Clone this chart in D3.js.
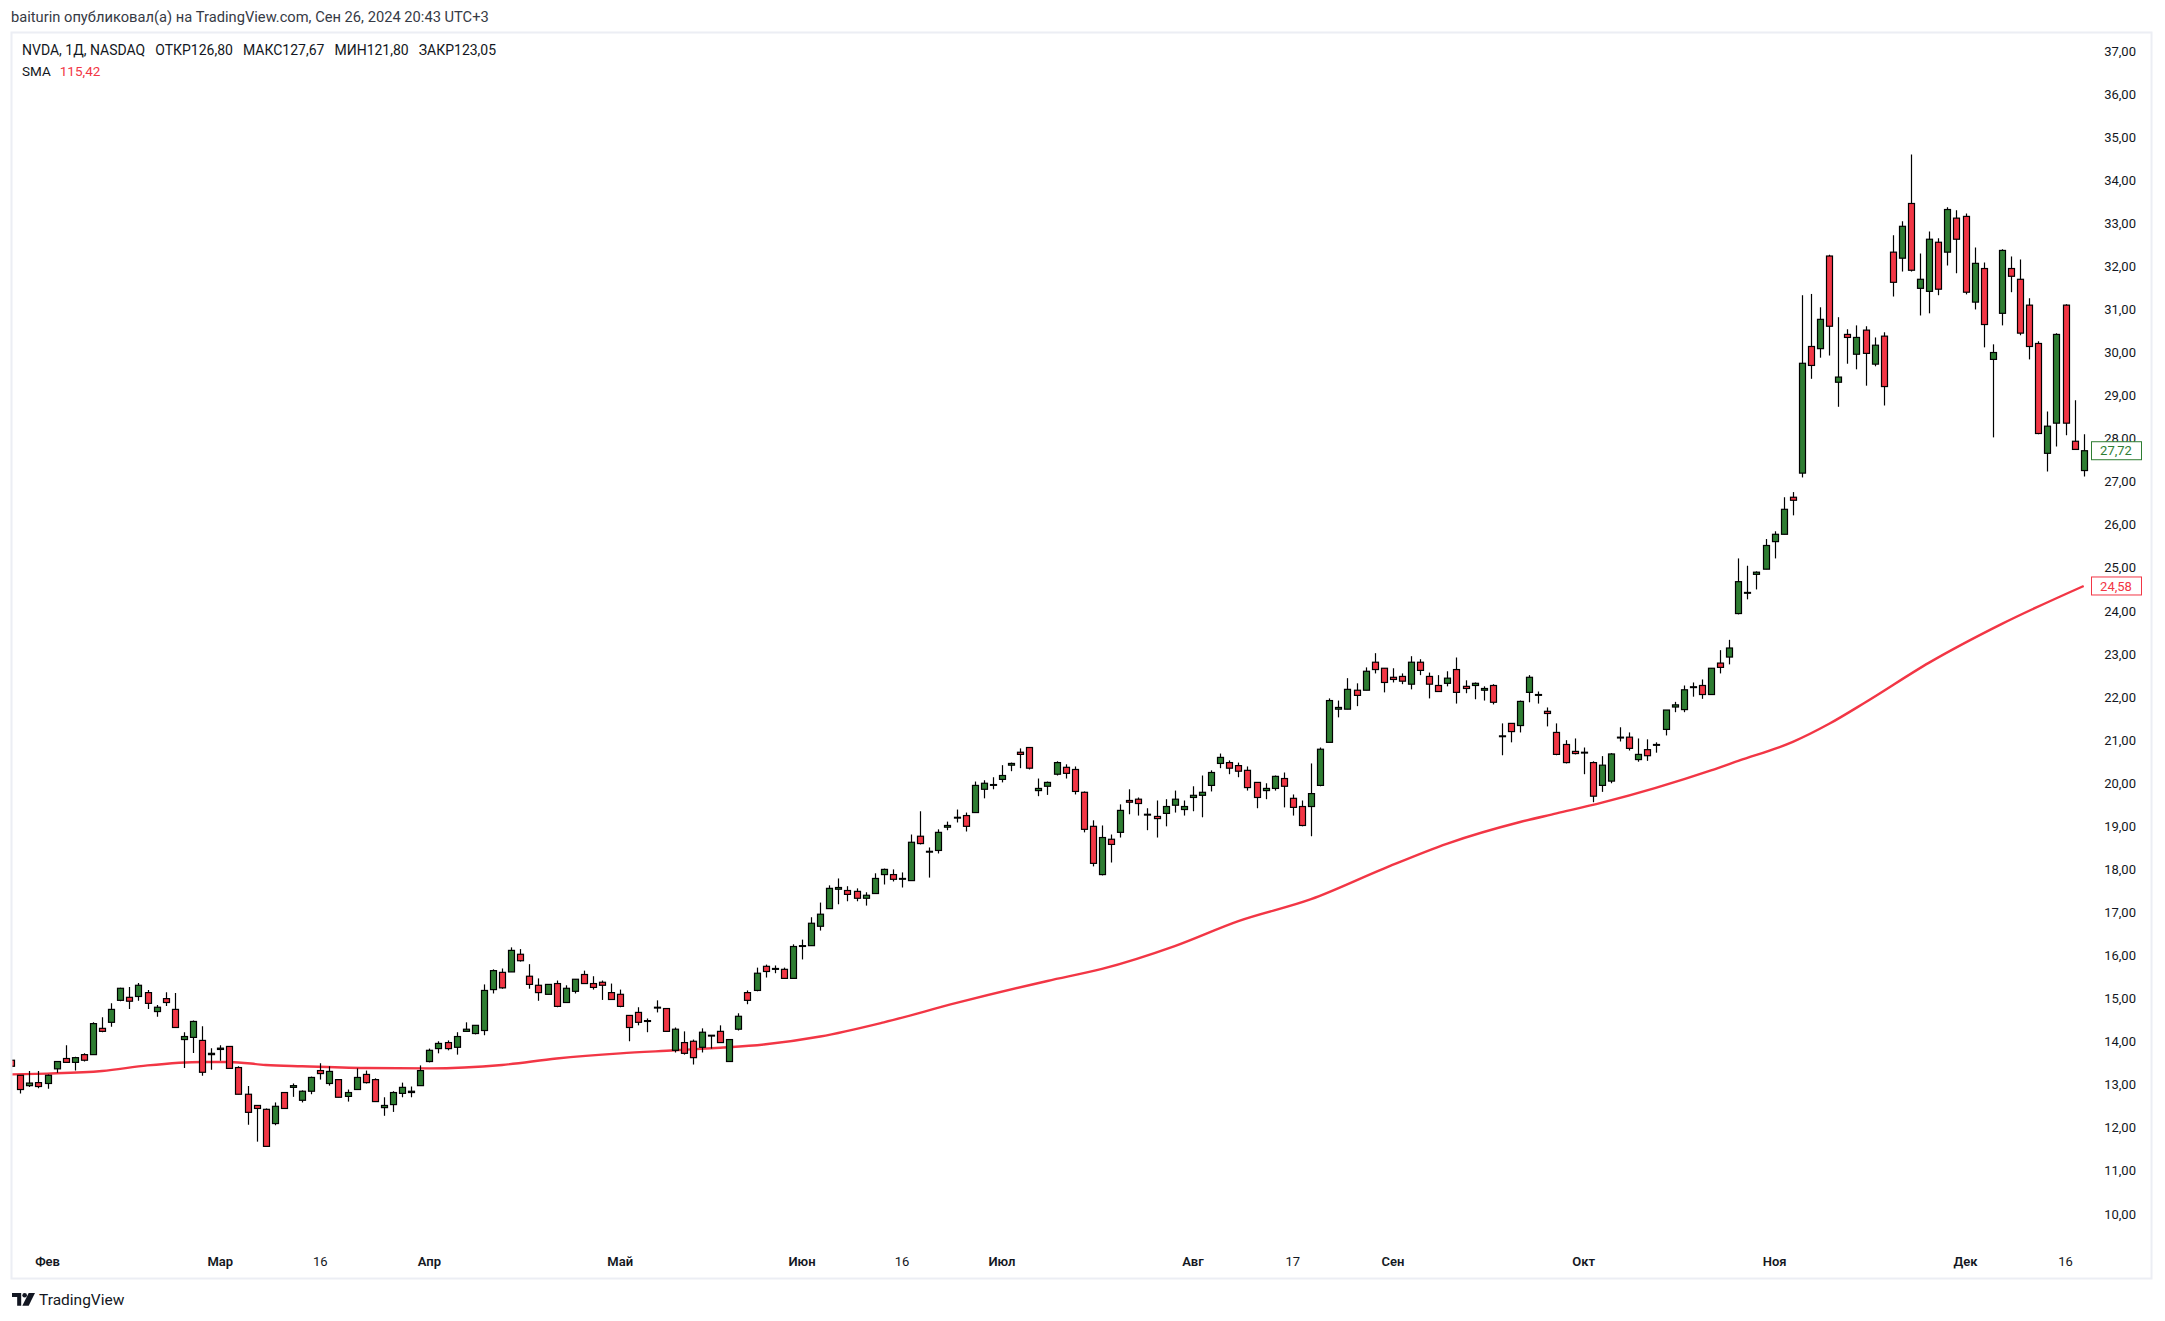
<!DOCTYPE html>
<html>
<head>
<meta charset="utf-8">
<script src="https://cdn.jsdelivr.net/npm/d3@7"></script>
<style>
  body { margin: 0; background: #fff; }
  svg text { font-family: Roboto, "Noto Sans", "DejaVu Sans", sans-serif; fill: #131722; }
</style>
</head>
<body>
<div id="chart"></div>
<script>
// daily candles (price scale as labelled on the chart)
const open = [13.57,13.22,12.98,13.05,13.03,13.37,13.61,13.52,13.70,13.70,14.31,14.45,14.96,15.03,15.05,15.14,14.70,15.00,14.75,14.05,
  14.10,14.03,13.70,13.82,13.89,13.40,12.78,12.52,12.43,12.10,12.82,12.94,12.64,12.85,13.33,13.03,13.12,12.73,12.89,13.24,
  13.12,12.47,12.54,12.80,12.82,12.98,13.54,13.84,13.98,13.87,14.24,14.19,14.26,15.21,15.61,15.62,16.03,15.52,15.31,15.10,
  15.35,14.91,15.17,15.56,15.35,15.38,15.14,15.10,14.61,14.68,14.47,14.79,14.77,13.80,13.98,14.01,13.87,14.15,14.24,13.54,
  14.29,15.14,15.19,15.75,15.68,15.68,15.47,16.23,16.23,16.68,17.09,17.54,17.51,17.49,17.33,17.44,17.88,17.88,17.79,17.74,
  18.77,18.42,18.44,18.98,19.21,19.25,19.32,19.86,19.97,20.09,20.42,20.72,20.83,19.83,19.93,20.21,20.37,20.32,19.79,19.00,
  17.88,18.70,18.86,19.60,19.63,19.28,19.23,19.30,19.49,19.39,19.67,19.72,19.95,20.46,20.48,20.41,20.30,20.02,19.83,19.88,
  20.11,19.65,19.46,19.46,19.95,20.95,21.72,21.72,22.16,22.16,22.81,22.67,22.46,22.48,22.30,22.81,22.48,22.27,22.32,22.64,
  22.25,22.27,22.16,22.27,21.10,21.39,21.34,22.11,22.06,21.67,21.18,20.90,20.74,20.72,20.48,19.95,20.05,21.07,21.07,20.55,
  20.78,20.90,21.25,21.77,21.71,22.24,22.27,22.06,22.79,22.93,23.94,24.43,24.85,24.97,25.61,25.78,26.64,27.20,30.14,30.09,
  32.24,29.31,30.42,29.96,30.52,29.73,30.38,32.33,32.19,33.46,31.49,31.42,32.56,32.33,33.12,33.16,31.17,31.95,29.84,30.91,
  31.95,31.70,31.10,30.21,27.66,28.36,31.10,27.94,27.26];
const high = [13.60,13.22,13.32,13.32,13.24,13.54,13.92,13.65,13.73,14.45,14.57,14.89,15.25,15.27,15.36,15.20,14.85,15.15,15.13,14.22,
  14.49,14.36,13.85,13.92,13.89,13.43,12.97,12.52,12.45,12.59,12.82,13.03,12.87,13.19,13.50,13.43,13.12,12.89,13.38,13.33,
  13.15,12.71,12.85,13.05,12.96,13.45,13.84,14.01,14.03,14.22,14.45,14.38,15.33,15.68,15.70,16.19,16.15,15.80,15.47,15.33,
  15.42,15.31,15.45,15.65,15.52,15.42,15.35,15.21,14.61,14.80,14.54,14.96,14.77,14.33,14.24,14.05,14.31,14.15,14.38,14.05,
  14.66,15.19,15.72,15.79,15.77,15.72,16.26,16.37,16.89,17.23,17.63,17.79,17.61,17.56,17.47,17.91,18.02,18.00,17.93,18.81,
  19.35,18.51,18.93,19.11,19.39,19.32,20.04,20.07,20.14,20.42,20.48,20.81,20.83,20.11,20.04,20.51,20.44,20.39,19.81,19.14,
  19.02,18.81,19.51,19.86,19.67,19.42,19.60,19.63,19.83,19.60,19.93,20.18,20.30,20.69,20.53,20.48,20.39,20.02,20.00,20.18,
  20.25,19.74,19.60,20.46,20.83,21.97,21.92,22.44,22.32,22.69,23.02,22.67,22.67,22.55,22.95,22.88,22.57,22.51,22.60,22.92,
  22.39,22.34,22.25,22.30,21.39,21.39,21.92,22.51,22.13,21.76,21.39,21.00,21.04,20.83,20.51,20.63,20.70,21.30,21.18,21.04,
  21.02,20.95,21.70,21.89,22.27,22.34,22.41,22.67,23.09,23.33,25.22,25.05,24.92,25.67,25.85,26.64,26.76,31.33,31.36,31.05,
  32.27,30.82,30.54,30.63,30.61,30.35,30.47,32.72,33.05,34.60,32.30,32.81,32.65,33.37,33.30,33.23,32.44,32.09,30.19,32.40,
  32.23,32.16,31.26,30.26,28.63,30.45,31.12,28.89,28.10];
const low = [13.40,12.80,12.95,12.92,12.91,13.28,13.52,13.33,13.54,13.70,14.22,14.35,14.94,14.76,14.95,14.76,14.58,14.83,14.33,13.39,
  13.74,13.21,13.35,13.56,13.38,12.78,12.07,11.68,11.57,12.06,12.45,12.72,12.59,12.78,13.12,12.98,12.71,12.61,12.89,13.03,
  12.61,12.28,12.37,12.71,12.71,12.98,13.52,13.73,13.80,13.70,14.24,14.17,14.15,15.12,15.23,15.62,15.86,15.23,14.95,15.10,
  14.80,14.91,15.12,15.35,15.21,14.97,14.98,14.80,14.01,14.38,14.22,14.68,14.24,13.75,13.70,13.47,13.75,13.84,13.98,13.54,
  14.26,14.87,15.17,15.49,15.59,15.47,15.47,15.91,16.23,16.58,17.09,17.19,17.26,17.26,17.16,17.44,17.65,17.72,17.58,17.74,
  18.58,17.81,18.37,18.91,19.09,18.88,19.32,19.65,19.86,20.02,20.28,20.35,20.32,19.70,19.73,20.18,20.11,19.74,18.86,18.07,
  17.86,18.16,18.74,19.28,19.25,18.91,18.74,19.00,19.32,19.25,19.35,19.21,19.81,20.35,20.21,20.14,19.83,19.42,19.63,19.83,
  19.44,19.25,19.00,18.77,19.93,20.95,21.53,21.72,21.79,22.16,22.55,22.11,22.34,22.30,22.18,22.51,21.97,22.13,22.25,21.85,
  22.09,21.95,21.92,21.83,20.65,20.95,21.18,21.88,21.85,21.32,20.65,20.46,20.67,20.21,19.56,19.80,20.00,20.97,20.76,20.50,
  20.52,20.71,21.11,21.65,21.65,22.01,21.96,22.06,22.55,22.76,23.92,24.27,24.50,24.97,25.22,25.78,26.22,27.10,29.39,29.88,
  29.93,28.74,29.74,29.61,29.23,29.68,28.77,31.30,31.88,31.88,30.86,30.91,31.33,32.02,31.84,31.35,31.00,30.12,28.03,30.63,
  31.40,30.40,29.84,28.10,27.24,27.82,28.08,27.75,27.12];
const close = [13.43,12.89,13.04,12.96,13.22,13.54,13.52,13.63,13.57,14.42,14.24,14.75,15.24,14.94,15.31,14.89,14.80,14.91,14.33,14.12,
  14.47,13.29,13.73,13.85,13.38,12.78,12.36,12.45,11.57,12.50,12.45,12.98,12.85,13.17,13.26,13.31,12.71,12.82,13.17,13.05,
  12.61,12.52,12.82,12.94,12.85,13.33,13.80,13.96,13.84,14.12,14.29,14.38,15.19,15.65,15.25,16.12,15.88,15.33,15.14,15.33,
  14.82,15.24,15.45,15.35,15.26,15.31,14.98,14.82,14.33,14.45,14.49,14.80,14.24,14.29,13.73,13.63,14.22,14.15,13.98,14.05,
  14.59,14.96,15.59,15.63,15.70,15.47,16.21,16.23,16.75,16.96,17.56,17.58,17.42,17.33,17.40,17.79,18.00,17.77,17.79,18.63,
  18.60,18.42,18.86,19.02,19.21,19.00,19.95,20.00,19.97,20.18,20.46,20.67,20.35,19.88,20.02,20.48,20.23,19.81,18.93,18.14,
  18.74,18.58,19.37,19.56,19.53,19.28,19.18,19.46,19.63,19.46,19.72,19.79,20.25,20.60,20.35,20.28,19.90,19.67,19.88,20.16,
  19.93,19.44,19.02,19.76,20.79,21.92,21.76,22.18,22.04,22.60,22.64,22.34,22.41,22.37,22.81,22.62,22.30,22.13,22.44,22.11,
  22.20,22.32,22.20,21.88,21.10,21.20,21.90,22.46,22.06,21.62,20.67,20.48,20.69,20.72,19.70,20.42,20.68,21.07,20.81,20.67,
  20.64,20.90,21.70,21.82,22.17,22.24,22.06,22.67,22.69,23.14,24.68,24.43,24.90,25.52,25.78,26.36,26.57,29.75,29.70,30.77,
  30.61,29.43,30.35,30.35,29.98,30.17,29.21,31.63,32.93,31.91,31.70,32.63,31.47,33.32,32.63,31.40,32.07,30.65,30.00,32.37,
  31.77,30.45,30.14,28.12,28.29,30.42,28.36,27.75,27.72];

// SMA line, read at these bars
const smaBars = [0,4,10,15,21,24,28,32,39,46,54,60,67,73,78,83,89,96,104,114,120,128,135,143,151,158,166,170,175,187,190,196,200,204,211,219,228];
const smaValues = [13.24,13.26,13.32,13.45,13.53,13.53,13.46,13.43,13.39,13.38,13.46,13.61,13.73,13.80,13.86,13.94,14.12,14.45,14.90,15.41,
  15.69,16.22,16.80,17.31,18.02,18.60,19.10,19.30,19.55,20.30,20.52,20.96,21.38,21.88,22.80,23.70,24.58];

// time axis labels (bar index they sit under)
const timeTickBars = [4,23,34,46,67,87,98,109,130,141,152,173,194,215,226];
const timeTickLabels = ['Фев','Мар','16','Апр','Май','Июн','16','Июл','Авг','17','Сен','Окт','Ноя','Дек','16'];
const priceTicks = d3.range(10, 38);

const headerText = 'baiturin опубликовал(а) на TradingView.com, Сен 26, 2024 20:43 UTC+3';
const legendParts = ['NVDA, 1Д, NASDAQ', 'ОТКР126,80', 'МАКС127,67', 'МИН121,80', 'ЗАКР123,05'];
const smaLegend = '115,42';

const W = 2165, H = 1321;
const UP = '#2e7d32', DOWN = '#f23645';

const candles = open.map((o, i) => ({ i, o, h: high[i], l: low[i], c: close[i] }));
const sma = smaBars.map((b, k) => ({ b, v: smaValues[k] }));

const fmt = d3.formatLocale({ decimal: ',', thousands: ' ', grouping: [3], currency: ['', ''] }).format('.2f');

const x = d3.scaleLinear().domain([0, candles.length - 1]).range([11.2, 2083.7]);
const y = d3.scaleLinear().domain([10, 37]).range([1214, 51]);

const svg = d3.select('#chart').append('svg')
    .attr('width', W)
    .attr('height', H);

svg.append('text')
    .attr('x', 11).attr('y', 22)
    .style('font-size', '14.7px')
    .style('fill', '#363a45')
    .text(headerText);

// frame
svg.append('rect')
    .attr('x', 11.5).attr('y', 32.5)
    .attr('width', 2140).attr('height', 1246)
    .attr('fill', 'none')
    .attr('stroke', '#eceef4')
    .attr('stroke-width', 2);

svg.append('clipPath').attr('id', 'plot')
  .append('rect')
    .attr('x', 12.5).attr('y', 34)
    .attr('width', 2082).attr('height', 1200);

const plot = svg.append('g').attr('clip-path', 'url(#plot)');

plot.append('path')
    .datum(sma)
    .attr('fill', 'none')
    .attr('stroke', DOWN)
    .attr('stroke-width', 2.4)
    .attr('d', d3.line().x(d => x(d.b)).y(d => y(d.v)).curve(d3.curveMonotoneX));

const candle = plot.append('g')
  .selectAll('g')
  .data(candles)
  .enter().append('g');

candle.append('line')
    .attr('x1', d => Math.round(x(d.i)) + 0.5)
    .attr('x2', d => Math.round(x(d.i)) + 0.5)
    .attr('y1', d => y(d.h))
    .attr('y2', d => y(d.l))
    .attr('stroke', '#000')
    .attr('stroke-width', 1.2);

candle.append('rect')
    .attr('x', d => Math.round(x(d.i)) - 2.5)
    .attr('width', 6)
    .attr('y', d => y(Math.max(d.o, d.c)))
    .attr('height', d => Math.max(0.8, Math.abs(y(d.o) - y(d.c))))
    .attr('fill', d => d.c >= d.o ? UP : DOWN)
    .attr('stroke', '#000')
    .attr('stroke-width', 1.2);

// price scale
svg.append('g')
  .selectAll('text')
  .data(priceTicks)
  .enter().append('text')
    .attr('x', 2136)
    .attr('y', d => y(d))
    .attr('dy', '0.35em')
    .attr('text-anchor', 'end')
    .style('font-size', '13px')
    .text(d => fmt(d));

// time scale
svg.append('g')
  .selectAll('text')
  .data(timeTickBars)
  .enter().append('text')
    .attr('x', d => x(d))
    .attr('y', 1261)
    .attr('dy', '0.35em')
    .attr('text-anchor', 'middle')
    .style('font-size', '13px')
    .style('font-weight', (d, k) => isNaN(+timeTickLabels[k]) ? 600 : 400)
    .text((d, k) => timeTickLabels[k]);

// last value tags
const lastClose = close[close.length - 1];
const lastSma = smaValues[smaValues.length - 1];
[[lastClose, UP], [lastSma, DOWN]].forEach(([v, col]) => {
    const g = svg.append('g');
    g.append('rect')
        .attr('x', 2091.5).attr('y', y(v) - 9)
        .attr('width', 50).attr('height', 18)
        .attr('fill', '#fff')
        .attr('stroke', col)
        .attr('stroke-width', 1);
    g.append('text')
        .attr('x', 2116).attr('y', y(v))
        .attr('dy', '0.35em')
        .attr('text-anchor', 'middle')
        .style('font-size', '13px')
        .style('fill', col)
        .text(fmt(v));
});

// legend
const legend = svg.append('text')
    .attr('x', 22).attr('y', 55)
    .style('font-size', '14px');
legendParts.forEach((t, k) => {
    legend.append('tspan').attr('dx', k ? 10 : 0).text(t);
});

const smaText = svg.append('text')
    .attr('x', 22).attr('y', 76)
    .style('font-size', '13.5px');
smaText.append('tspan').text('SMA');
smaText.append('tspan').attr('dx', 9).style('fill', DOWN).text(smaLegend);

// footer logo
const logo = svg.append('g').attr('transform', 'translate(12,1293) scale(1.15)');
logo.append('path').attr('d', 'M0,0H8V11H4.5V3.5H0Z').attr('fill', '#131722');
logo.append('circle').attr('cx', 11).attr('cy', 2).attr('r', 2).attr('fill', '#131722');
logo.append('path').attr('d', 'M14.5,0H20L14.5,11H9Z').attr('fill', '#131722');
svg.append('text')
    .attr('x', 39).attr('y', 1300)
    .attr('dy', '0.35em')
    .style('font-size', '15.5px')
    .text('TradingView');
</script>
</body>
</html>
